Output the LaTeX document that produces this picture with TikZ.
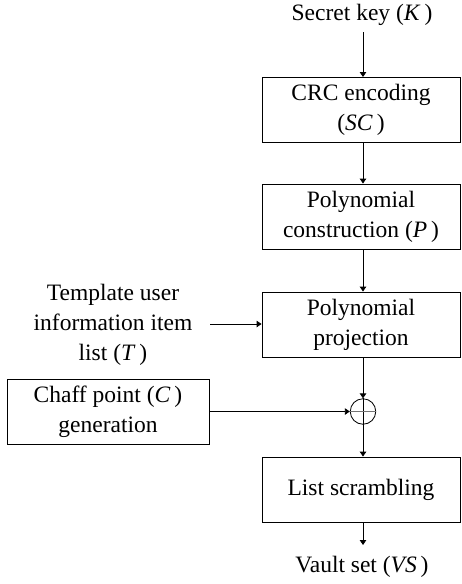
\documentclass[tikz,border=0pt]{standalone}
\usepackage{fontspec}
\setmainfont{Liberation Serif}
\usetikzlibrary{arrows.meta}
\begin{document}
\begin{tikzpicture}[x=1pt,y=-1pt,
  font=\fontsize{23.5}{30}\selectfont,
  block/.style={draw, line width=0.8pt, minimum width=198pt, minimum height=65pt, align=center, inner sep=0pt},
  label/.style={align=center, inner sep=0pt},
  flow/.style={line width=0.8pt, -{Triangle[length=5pt,width=6.5pt]}}]
\useasboundingbox (0,0) rectangle (461,584);
% main column
\node[label] (key) at (362,15) {Secret key (\textit{K}\,)};
\node[block] (crc) at (361,110) {CRC encoding\\(\textit{SC}\,)};
\node[block] (poly) at (361,216.5) {Polynomial\\construction (\textit{P}\,)};
\node[block] (proj) at (361,324.5) {Polynomial\\projection};
\node[draw, circle, line width=0.8pt, minimum size=25.5pt, inner sep=0pt] (sum) at (363,411.5) {};
\node[block] (scr) at (361,489.5) {List scrambling};
\node[label] (vault) at (362,567) {Vault set (\textit{VS}\,)};
% side inputs
\node[label] (tmpl) at (113,324.5) {Template user\\information item\\list (\textit{T}\,)};
\node[block, minimum width=202pt] (chaff) at (108,411.5) {Chaff point (\textit{C}\,)\\generation};
% adder cross
\draw[line width=0.8pt] (sum.north) -- (sum.south);
\draw[line width=0.8pt, black!55] (sum.west) -- (sum.east);
% connectors
\draw[flow] (363,32) -- (363,77);
\draw[flow] (crc.south -| sum) -- (poly.north -| sum);
\draw[flow] (poly.south -| sum) -- (proj.north -| sum);
\draw[flow] (proj.south -| sum) -- (sum.north);
\draw[flow] (sum.south) -- (scr.north -| sum);
\draw[flow] (scr.south -| sum) -- (363,545);
\draw[flow] (210,324) -- (proj.west |- 0,324);
\draw[flow] (chaff.east) -- (sum.west);
\end{tikzpicture}
\end{document}
